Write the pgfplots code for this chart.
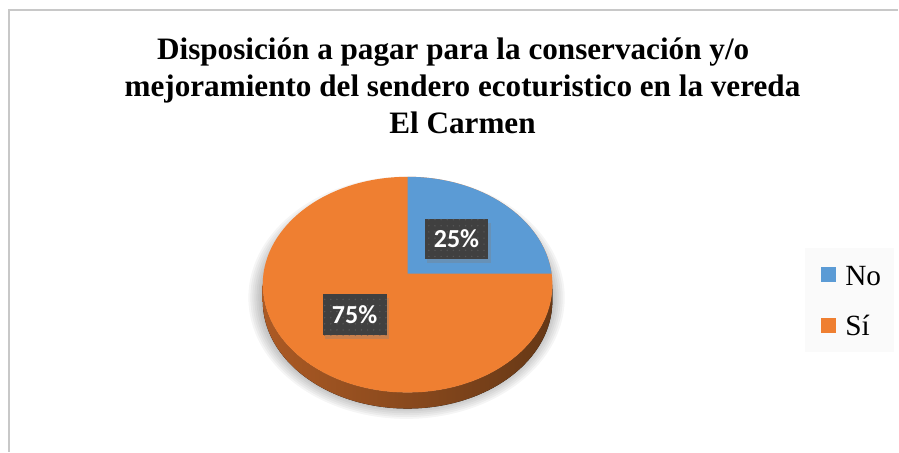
\documentclass[border=0pt]{standalone}
\usepackage{fontspec}
\setmainfont{Liberation Serif}
\newfontfamily\carlito{Carlito}
\usepackage{pgfplots}
\usepackage{pgfplotstable}
\pgfplotsset{compat=1.18}
\usetikzlibrary{shadows,patterns.meta}

\definecolor{pieNo}{RGB}{91,155,213}
\definecolor{pieSi}{RGB}{239,127,49}
\definecolor{sideL}{RGB}{172,90,36}
\definecolor{sideM}{RGB}{94,51,18}
\definecolor{sideR}{RGB}{102,56,22}
\definecolor{lblgray}{RGB}{64,64,64}
\definecolor{lbldot}{RGB}{88,88,88}
\definecolor{legbg}{RGB}{250,250,250}
\definecolor{frame}{RGB}{200,200,200}

\pgfplotstableread{
label value
No 25
Sí 75
}\piedata

\begin{document}
\begin{tikzpicture}
\pgfplotstablegetelem{0}{value}\of\piedata \let\vNo\pgfplotsretval
\pgfplotstablegetelem{1}{value}\of\piedata \let\vSi\pgfplotsretval
\begin{axis}[
  scale only axis, width=674.25pt, height=339pt,
  xmin=0, xmax=899, ymin=0, ymax=452, y dir=reverse,
  hide axis, clip=false,
  title={Disposición a pagar para la conservación y/o\hspace*{14pt}\\mejoramiento del sendero ecoturistico en la vereda\\El Carmen},
  title style={at={(axis cs:463,94)}, anchor=center, align=center,
    font=\fontsize{23.4}{27.6}\selectfont\bfseries},
  legend style={at={(axis cs:806,248)}, anchor=north west, draw=none,
    fill=legbg, font=\fontsize{22}{26}\selectfont,
    inner xsep=8pt, inner ysep=10pt, row sep=18pt, column sep=0pt,
    nodes={inner sep=2pt, text height=16pt, text depth=0pt}},
  legend cell align=left,
  legend image code/.code={\path[draw=none, fill=none] (0pt,-1pt) rectangle (20pt,1pt);
    \fill[#1, draw=none] (3.5pt,-5.6pt) rectangle (14.75pt,5.6pt);},
]
\addlegendimage{pieNo}
\addlegendentry{No}
\addlegendimage{pieSi}
\addlegendentry{Sí}

% frame
\draw[frame, line width=1.5pt] (axis cs:9.5,452) -- (axis cs:9.5,10.5) -- (axis cs:899,10.5);

\pgfmathsetmacro\rx{108.75}
\pgfmathsetmacro\ry{81}
\pgfmathsetmacro\dep{12}
\pgfmathsetmacro\bnd{90-3.6*\vNo+5.85}

% soft shadow
\pgfplotsinvokeforeach{0,...,6}{
  \fill[black, opacity=0.04]
    (axis cs:407,298) ellipse[x radius={\rx pt+10pt-1.5pt*#1}, y radius={\ry pt+10pt-1.4pt*#1}];
}
% side
\fill[left color=sideL, middle color=sideM, right color=sideR]
  (axis cs:263,285) arc[start angle=180, end angle=360, x radius=\rx pt, y radius=\ry pt]
  -- ++(0,-\dep pt) arc[start angle=360, end angle=180, x radius=\rx pt, y radius=\ry pt] -- cycle;
% top surface
\fill[pieSi] (axis cs:408,285) ellipse[x radius=\rx pt, y radius=\ry pt];
\fill[pieNo] (axis cs:408,274) -- (axis cs:408,177)
  arc[start angle=90, end angle=\bnd, x radius=\rx pt, y radius=\ry pt] -- cycle;

% labels
\node[fill=lblgray, text=white, font=\carlito\bfseries\fontsize{19.5}{22}\selectfont,
  minimum width=48pt, minimum height=30pt, inner sep=0pt,
  drop shadow={shadow xshift=2pt, shadow yshift=-3pt, opacity=0.35},
  postaction={pattern={Dots[distance=4.6pt, radius=0.6pt]}, pattern color=lbldot}]
  at (axis cs:457,239) {\vNo\%};
\node[fill=lblgray, text=white, font=\carlito\bfseries\fontsize{19.5}{22}\selectfont,
  minimum width=48pt, minimum height=31pt, inner sep=0pt,
  drop shadow={shadow xshift=2pt, shadow yshift=-3pt, opacity=0.35},
  postaction={pattern={Dots[distance=4.6pt, radius=0.6pt]}, pattern color=lbldot}]
  at (axis cs:355,315) {\vSi\%};

\path (axis cs:0,0) (axis cs:899,452);
\end{axis}
\end{tikzpicture}
\end{document}
